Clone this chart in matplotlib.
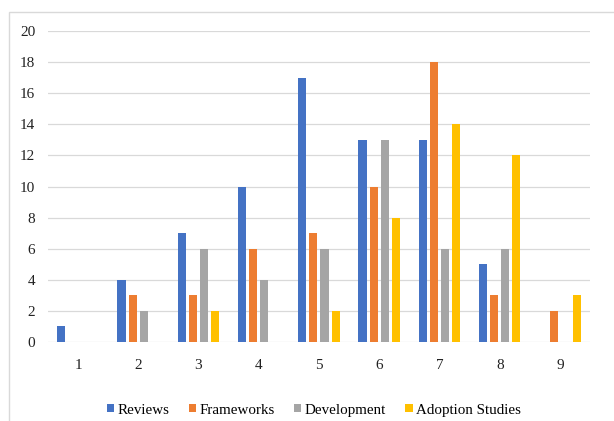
import numpy as np
import matplotlib.pyplot as plt
from matplotlib.patches import Rectangle

categories = ['1', '2', '3', '4', '5', '6', '7', '8', '9']
reviews = [1, 4, 7, 10, 17, 13, 13, 5, 0]
frameworks = [0, 3, 3, 6, 7, 10, 18, 3, 2]
development = [0, 2, 6, 4, 6, 13, 6, 6, 0]
adoption = [0, 0, 2, 0, 2, 8, 14, 12, 3]

series = [('Reviews', reviews, '#4472C4'),
          ('Frameworks', frameworks, '#ED7D31'),
          ('Development', development, '#A5A5A5'),
          ('Adoption Studies', adoption, '#FFC000')]

plt.rcParams['font.family'] = ['Liberation Serif', 'DejaVu Serif']

fig = plt.figure(figsize=(6.14, 4.21), dpi=100)
ax = fig.add_axes([0.078, 0.188, 0.883, 0.738])

x = np.arange(len(categories))
width = 0.135
pitch = 0.185
for i, (name, vals, col) in enumerate(series):
    ax.bar(x + (i - 1.5) * pitch, vals, width, color=col, label=name, zorder=3)

ax.set_xlim(-0.5, len(categories) - 0.5)
ax.set_ylim(0, 20)
ax.set_yticks(range(0, 21, 2))
ax.set_xticks(x)
ax.set_xticklabels(categories)
ax.yaxis.grid(True, color='#D9D9D9', linewidth=0.9, zorder=0)
for s in ax.spines.values():
    s.set_visible(False)
ax.tick_params(length=0, labelsize=11, colors='#222222')
ax.tick_params(axis='x', pad=12)
ax.tick_params(axis='y', pad=9)

ax.legend(loc='upper center', bbox_to_anchor=(0.49, -0.155), ncol=4, frameon=False,
          fontsize=10.8, handlelength=0.5, handleheight=0.5, handletextpad=0.2,
          columnspacing=1.3)

fig.patches.append(Rectangle((0.014, -0.01), 0.99, 0.982, transform=fig.transFigure,
                             fill=False, edgecolor='#D9D9D9', linewidth=1))

fig.savefig('out.png', dpi=100)
